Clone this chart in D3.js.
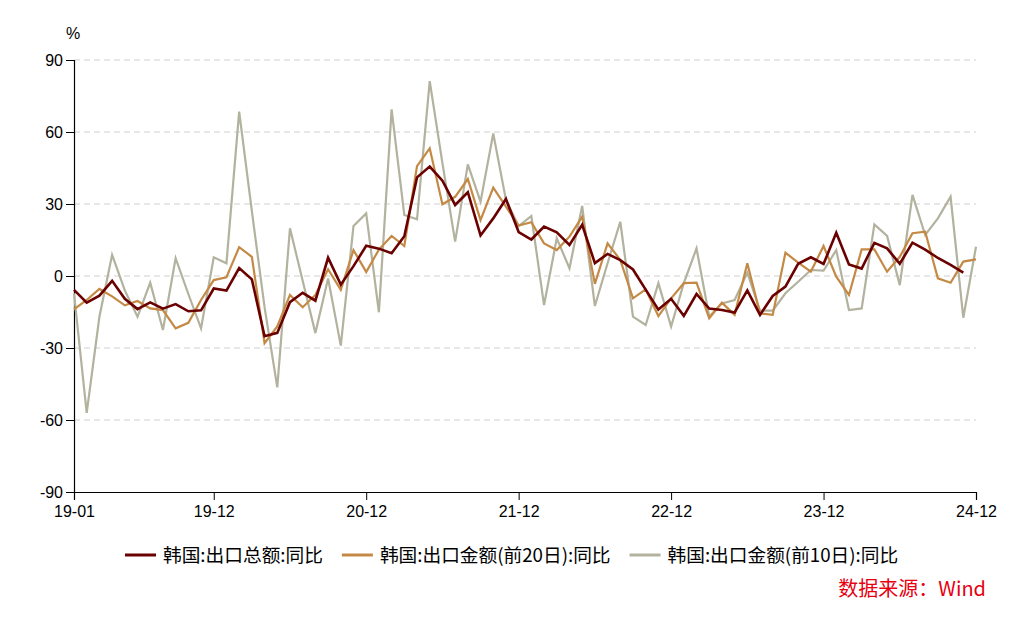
<!DOCTYPE html>
<html>
<head>
<meta charset="utf-8">
<script src="https://cdn.jsdelivr.net/npm/d3@7"></script>
<style>
  html, body { margin: 0; padding: 0; background: #fff; }
  svg { display: block; }
  text { font-family: "Liberation Sans", Arial, "Noto Sans CJK SC", sans-serif; }
</style>
</head>
<body>
<svg id="chart" width="1024" height="618"></svg>
<script>
// ---------- data ----------
const years = ["19", "20", "21", "22", "23", "24"];
const monthNums = ["01","02","03","04","05","06","07","08","09","10","11","12"];
const months = [];
years.forEach(y => monthNums.forEach(m => months.push(y + "-" + m)));

const seriesNames = ["韩国:出口总额:同比", "韩国:出口金额(前20日):同比", "韩国:出口金额(前10日):同比"];
const seriesColors = ["#6b0000", "#c48a45", "#b2b29e"];

// 韩国:出口总额:同比 (%)
const exportTotal = [
  -5.8, -11.1, -8.2, -2.0, -9.5, -13.8, -11.0, -13.6, -11.7, -14.7, -14.3, -5.2,
  -6.1, 3.3, -1.4, -25.1, -23.7, -10.9, -7.0, -10.3, 7.6, -3.6, 4.1, 12.6,
  11.4, 9.5, 16.6, 41.1, 45.6, 39.7, 29.6, 34.9, 16.9, 24.0, 32.1, 18.3,
  15.2, 20.6, 18.2, 12.9, 21.3, 5.4, 9.2, 6.6, 2.7, -5.7, -14.0, -9.5,
  -16.6, -7.5, -13.6, -14.2, -15.2, -6.0, -16.2, -8.3, -4.4, 5.1, 7.8, 5.0,
  18.0, 4.8, 3.1, 13.8, 11.5, 5.1, 13.9, 11.0, 7.5, 4.6, 1.4, null
];
// 韩国:出口金额(前20日):同比 (%)
const export20 = [
  -13.9, -10.0, -5.4, -8.5, -12.2, -10.4, -13.5, -14.2, -21.8, -19.5, -10.0, -1.7,
  -0.5, 12.0, 8.0, -28.0, -21.0, -7.9, -13.0, -7.9, 2.8, -5.8, 10.8, 1.7,
  11.0, 16.7, 12.5, 45.8, 53.2, 29.9, 33.0, 40.4, 23.3, 36.8, 28.9, 21.0,
  22.4, 13.6, 10.8, 16.4, 24.7, -3.3, 13.6, 6.7, -9.3, -5.6, -16.7, -9.3,
  -3.0, -2.8, -17.6, -11.1, -16.2, 5.3, -15.6, -16.2, 9.7, 5.6, 1.8, 12.5,
  -0.3, -7.9, 11.1, 11.1, 1.8, 8.0, 17.8, 18.5, -1.0, -2.8, 6.0, 6.9
];
// 韩国:出口金额(前10日):同比 (%)
const export10 = [
  -7.2, -57.0, -17.0, 8.8, -6.0, -17.0, -2.8, -22.5, 7.4, -7.5, -21.8, 7.8,
  5.3, 68.5, 27.0, -13.0, -46.4, 19.9, -2.0, -23.8, -1.0, -29.0, 20.8, 26.1,
  -15.1, 69.4, 25.4, 23.6, 81.2, 47.0, 14.3, 46.5, 31.0, 59.4, 31.7, 20.8,
  25.0, -12.1, 15.7, 3.2, 29.2, -12.5, 5.3, 22.6, -16.9, -20.4, -3.0, -21.1,
  -3.0, 11.5, -16.9, -11.4, -10.0, 1.4, -14.4, -14.4, -7.2, -2.4, 2.5, 2.2,
  10.8, -14.2, -13.5, 21.5, 16.7, -3.8, 33.8, 17.1, 24.0, 33.0, -17.4, 12.2
];

const xTickLabels = ["19-01", "19-12", "20-12", "21-12", "22-12", "23-12", "24-12"];
const yTickValues = [-90, -60, -30, 0, 30, 60, 90];

// ---------- layout ----------
const svg = d3.select("#chart");
const plotLeft = 74, plotRight = 976, plotTop = 60, plotBottom = 492;

const x = d3.scalePoint().domain(months).range([plotLeft, plotRight]);
const y = d3.scaleLinear().domain([-90, 90]).range([plotBottom, plotTop]);

// gridlines
svg.append("g")
  .selectAll("line")
  .data(yTickValues.filter(v => v !== -90))
  .join("line")
  .attr("x1", plotLeft).attr("x2", plotRight)
  .attr("y1", d => y(d)).attr("y2", d => y(d))
  .attr("stroke", "#cfcfcf")
  .attr("stroke-width", 1)
  .attr("stroke-dasharray", "6,4");

// y axis
const yAxis = svg.append("g")
  .attr("transform", `translate(${plotLeft},0)`)
  .call(d3.axisLeft(y).tickValues(yTickValues).tickFormat(d => String(d)).tickSize(8).tickPadding(3));
yAxis.select(".domain").attr("stroke", "#000").attr("stroke-width", 1.2);
yAxis.selectAll(".tick line").attr("stroke", "#000");
yAxis.selectAll(".tick text").attr("font-size", 16).attr("fill", "#000")
  .style("font-family", '"Liberation Sans", Arial, sans-serif');

// x axis
const xAxis = svg.append("g")
  .attr("transform", `translate(0,${plotBottom})`)
  .call(d3.axisBottom(x).tickValues(xTickLabels).tickSize(8).tickPadding(6));
xAxis.select(".domain").attr("stroke", "#000").attr("stroke-width", 1.2);
xAxis.selectAll(".tick line").attr("stroke", "#000");
xAxis.selectAll(".tick text").attr("font-size", 16).attr("fill", "#000")
  .style("font-family", '"Liberation Sans", Arial, sans-serif');

// unit label
svg.append("text")
  .attr("x", plotLeft - 1).attr("y", 39)
  .attr("text-anchor", "middle")
  .attr("font-size", 16)
  .text("%");

// lines
const allSeries = [export10, export20, exportTotal];
const allColors = [seriesColors[2], seriesColors[1], seriesColors[0]];
const allWidths = [2.2, 2.2, 2.6];
const line = d3.line()
  .defined(d => d.v !== null)
  .x(d => x(d.m))
  .y(d => y(d.v));

allSeries.forEach((s, k) => {
  svg.append("path")
    .datum(s.map((v, i) => ({ m: months[i], v: v })))
    .attr("fill", "none")
    .attr("stroke", allColors[k])
    .attr("stroke-width", allWidths[k])
    .attr("stroke-linejoin", "miter")
    .attr("d", line);
});

// legend
const legend = svg.append("g").attr("transform", "translate(0,555)");
let lx = 125;
seriesNames.forEach((name, i) => {
  legend.append("line")
    .attr("x1", lx).attr("x2", lx + 31)
    .attr("y1", 0).attr("y2", 0)
    .attr("stroke", seriesColors[i]).attr("stroke-width", 3);
  const t = legend.append("text")
    .attr("x", lx + 38).attr("y", 0)
    .attr("dy", "0.35em")
    .attr("font-size", 18.7)
    .attr("fill", "#000")
    .style("font-family", '"Noto Sans CJK SC", sans-serif')
    .text(name);
  lx = lx + 38 + t.node().getComputedTextLength() + 19;
});

// source
svg.append("text")
  .attr("x", 986).attr("y", 596)
  .attr("text-anchor", "end")
  .attr("font-size", 20)
  .attr("fill", "#e60012")
  .style("font-family", '"Noto Sans CJK SC", sans-serif')
  .text("数据来源：Wind");
</script>
</body>
</html>
